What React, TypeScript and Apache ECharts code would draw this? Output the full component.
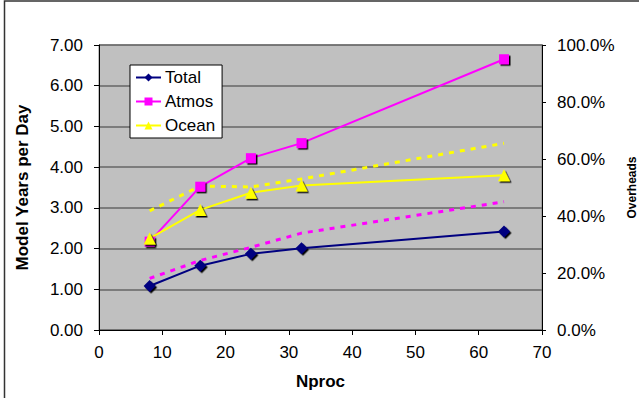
import React, { useEffect, useRef } from "react";
import * as echarts from "echarts";

const nproc = [8, 16, 24, 32, 64];
const totalYpd = [1.08, 1.58, 1.87, 2.01, 2.42];
const atmosYpd = [2.17, 3.52, 4.22, 4.59, 6.65];
const oceanYpd = [2.25, 2.95, 3.37, 3.55, 3.8];
const atmosOverhead = [18.1, 24.4, 29.0, 34.0, 45.0];
const oceanOverhead = [41.8, 50.5, 50.2, 53.0, 65.5];

const FONT = "'Liberation Sans', Arial, sans-serif";

function pairs(xs: number[], ys: number[]) {
  return xs.map((x, i) => [x, ys[i]]);
}

export default function App() {
  const ref = useRef<HTMLDivElement>(null);
  useEffect(() => {
    if (!ref.current) return;
    const chart = echarts.init(ref.current, null, { renderer: "svg" });
    const shadow = {
      shadowColor: "#000",
      shadowOffsetX: 1.5,
      shadowOffsetY: 1.5,
      shadowBlur: 0.5,
    };
    chart.setOption({
      animation: false,
      backgroundColor: "#fff",
      textStyle: { fontFamily: FONT },
      graphic: [
        {
          type: "rect",
          shape: { x: 4.5, y: 1, width: 700, height: 500 },
          style: { fill: "none", stroke: "#333", lineWidth: 1.5 },
          silent: true,
        },
      ],
      grid: {
        left: 99,
        right: 97,
        top: 45,
        bottom: 68,
        outerBoundsMode: "none",
        containLabel: false,
        show: true,
        backgroundColor: "#C0C0C0",
        borderColor: "#808080",
        borderWidth: 1,
      },
      legend: {
        data: ["Total", "Atmos", "Ocean"],
        orient: "vertical",
        left: 130,
        top: 65,
        backgroundColor: "#fff",
        borderColor: "#000",
        borderWidth: 1,
        borderRadius: 0,
        padding: [4, 7, 4, 5],
        itemWidth: 25,
        itemHeight: 10,
        itemGap: 7,
        textStyle: {
          fontFamily: FONT,
          fontSize: 17,
          color: "#000",
          lineHeight: 17,
          padding: [0, 0, 0, -1],
        },
      },
      xAxis: {
        type: "value",
        min: 0,
        max: 70,
        interval: 10,
        name: "Nproc",
        nameLocation: "middle",
        nameGap: 43,
        nameTextStyle: { fontFamily: FONT, fontSize: 17, fontWeight: "bold", color: "#000" },
        axisLine: { show: true, lineStyle: { color: "#000", width: 1 } },
        axisTick: { show: true, length: 5, inside: false, lineStyle: { color: "#000" } },
        axisLabel: { fontFamily: FONT, fontSize: 17, color: "#000", margin: 14 },
        splitLine: { show: false },
      },
      yAxis: [
        {
          type: "value",
          min: 0,
          max: 7,
          interval: 1,
          name: "Model Years per Day",
          nameLocation: "middle",
          nameGap: 68,
          nameTextStyle: { fontFamily: FONT, fontSize: 17, fontWeight: "bold", color: "#000" },
          axisLine: { show: true, lineStyle: { color: "#000", width: 1 } },
          axisTick: { show: true, length: 5, lineStyle: { color: "#000" } },
          axisLabel: {
            fontFamily: FONT,
            fontSize: 17,
            color: "#000",
            margin: 16,
            formatter: (v: number) => v.toFixed(2),
          },
          splitLine: { show: true, lineStyle: { color: "#666", width: 1.5 } },
        },
        {
          type: "value",
          min: 0,
          max: 100,
          interval: 20,
          name: "Overheads",
          nameLocation: "middle",
          nameRotate: 90,
          nameGap: 84,
          nameTextStyle: { fontFamily: FONT, fontSize: 12, fontWeight: "bold", color: "#000" },
          axisLine: { show: true, lineStyle: { color: "#000", width: 1 } },
          axisTick: { show: true, length: 4, lineStyle: { color: "#000" } },
          axisLabel: {
            fontFamily: FONT,
            fontSize: 17,
            color: "#000",
            margin: 15,
            formatter: (v: number) => v.toFixed(1) + "%",
          },
          splitLine: { show: false },
        },
      ],
      series: [
        {
          name: "Total",
          type: "line",
          data: pairs(nproc, totalYpd),
          symbol: "diamond",
          symbolSize: 12,
          lineStyle: { color: "#000080", width: 2 },
          itemStyle: { color: "#000080", ...shadow },
        },
        {
          name: "Atmos",
          type: "line",
          data: pairs(nproc, atmosYpd),
          symbol: "rect",
          symbolSize: 10,
          lineStyle: { color: "#FF00FF", width: 2 },
          itemStyle: { color: "#FF00FF", ...shadow },
        },
        {
          name: "Ocean",
          type: "line",
          data: pairs(nproc, oceanYpd),
          symbol: "triangle",
          symbolSize: 12,
          lineStyle: { color: "#FFFF00", width: 2 },
          itemStyle: { color: "#FFFF00", ...shadow },
        },
        {
          name: "Atmos overhead",
          type: "line",
          yAxisIndex: 1,
          data: pairs(nproc, atmosOverhead),
          showSymbol: false,
          symbol: "none",
          lineStyle: { color: "#FF00FF", width: 3, type: [5, 6] },
        },
        {
          name: "Ocean overhead",
          type: "line",
          yAxisIndex: 1,
          data: pairs(nproc, oceanOverhead),
          showSymbol: false,
          symbol: "none",
          lineStyle: { color: "#FFFF00", width: 3, type: [5, 6] },
        },
      ],
    });
    return () => chart.dispose();
  }, []);
  return (
    <div
      ref={ref}
      style={{ position: "fixed", left: 0, top: 0, width: 639, height: 398 }}
    />
  );
}
